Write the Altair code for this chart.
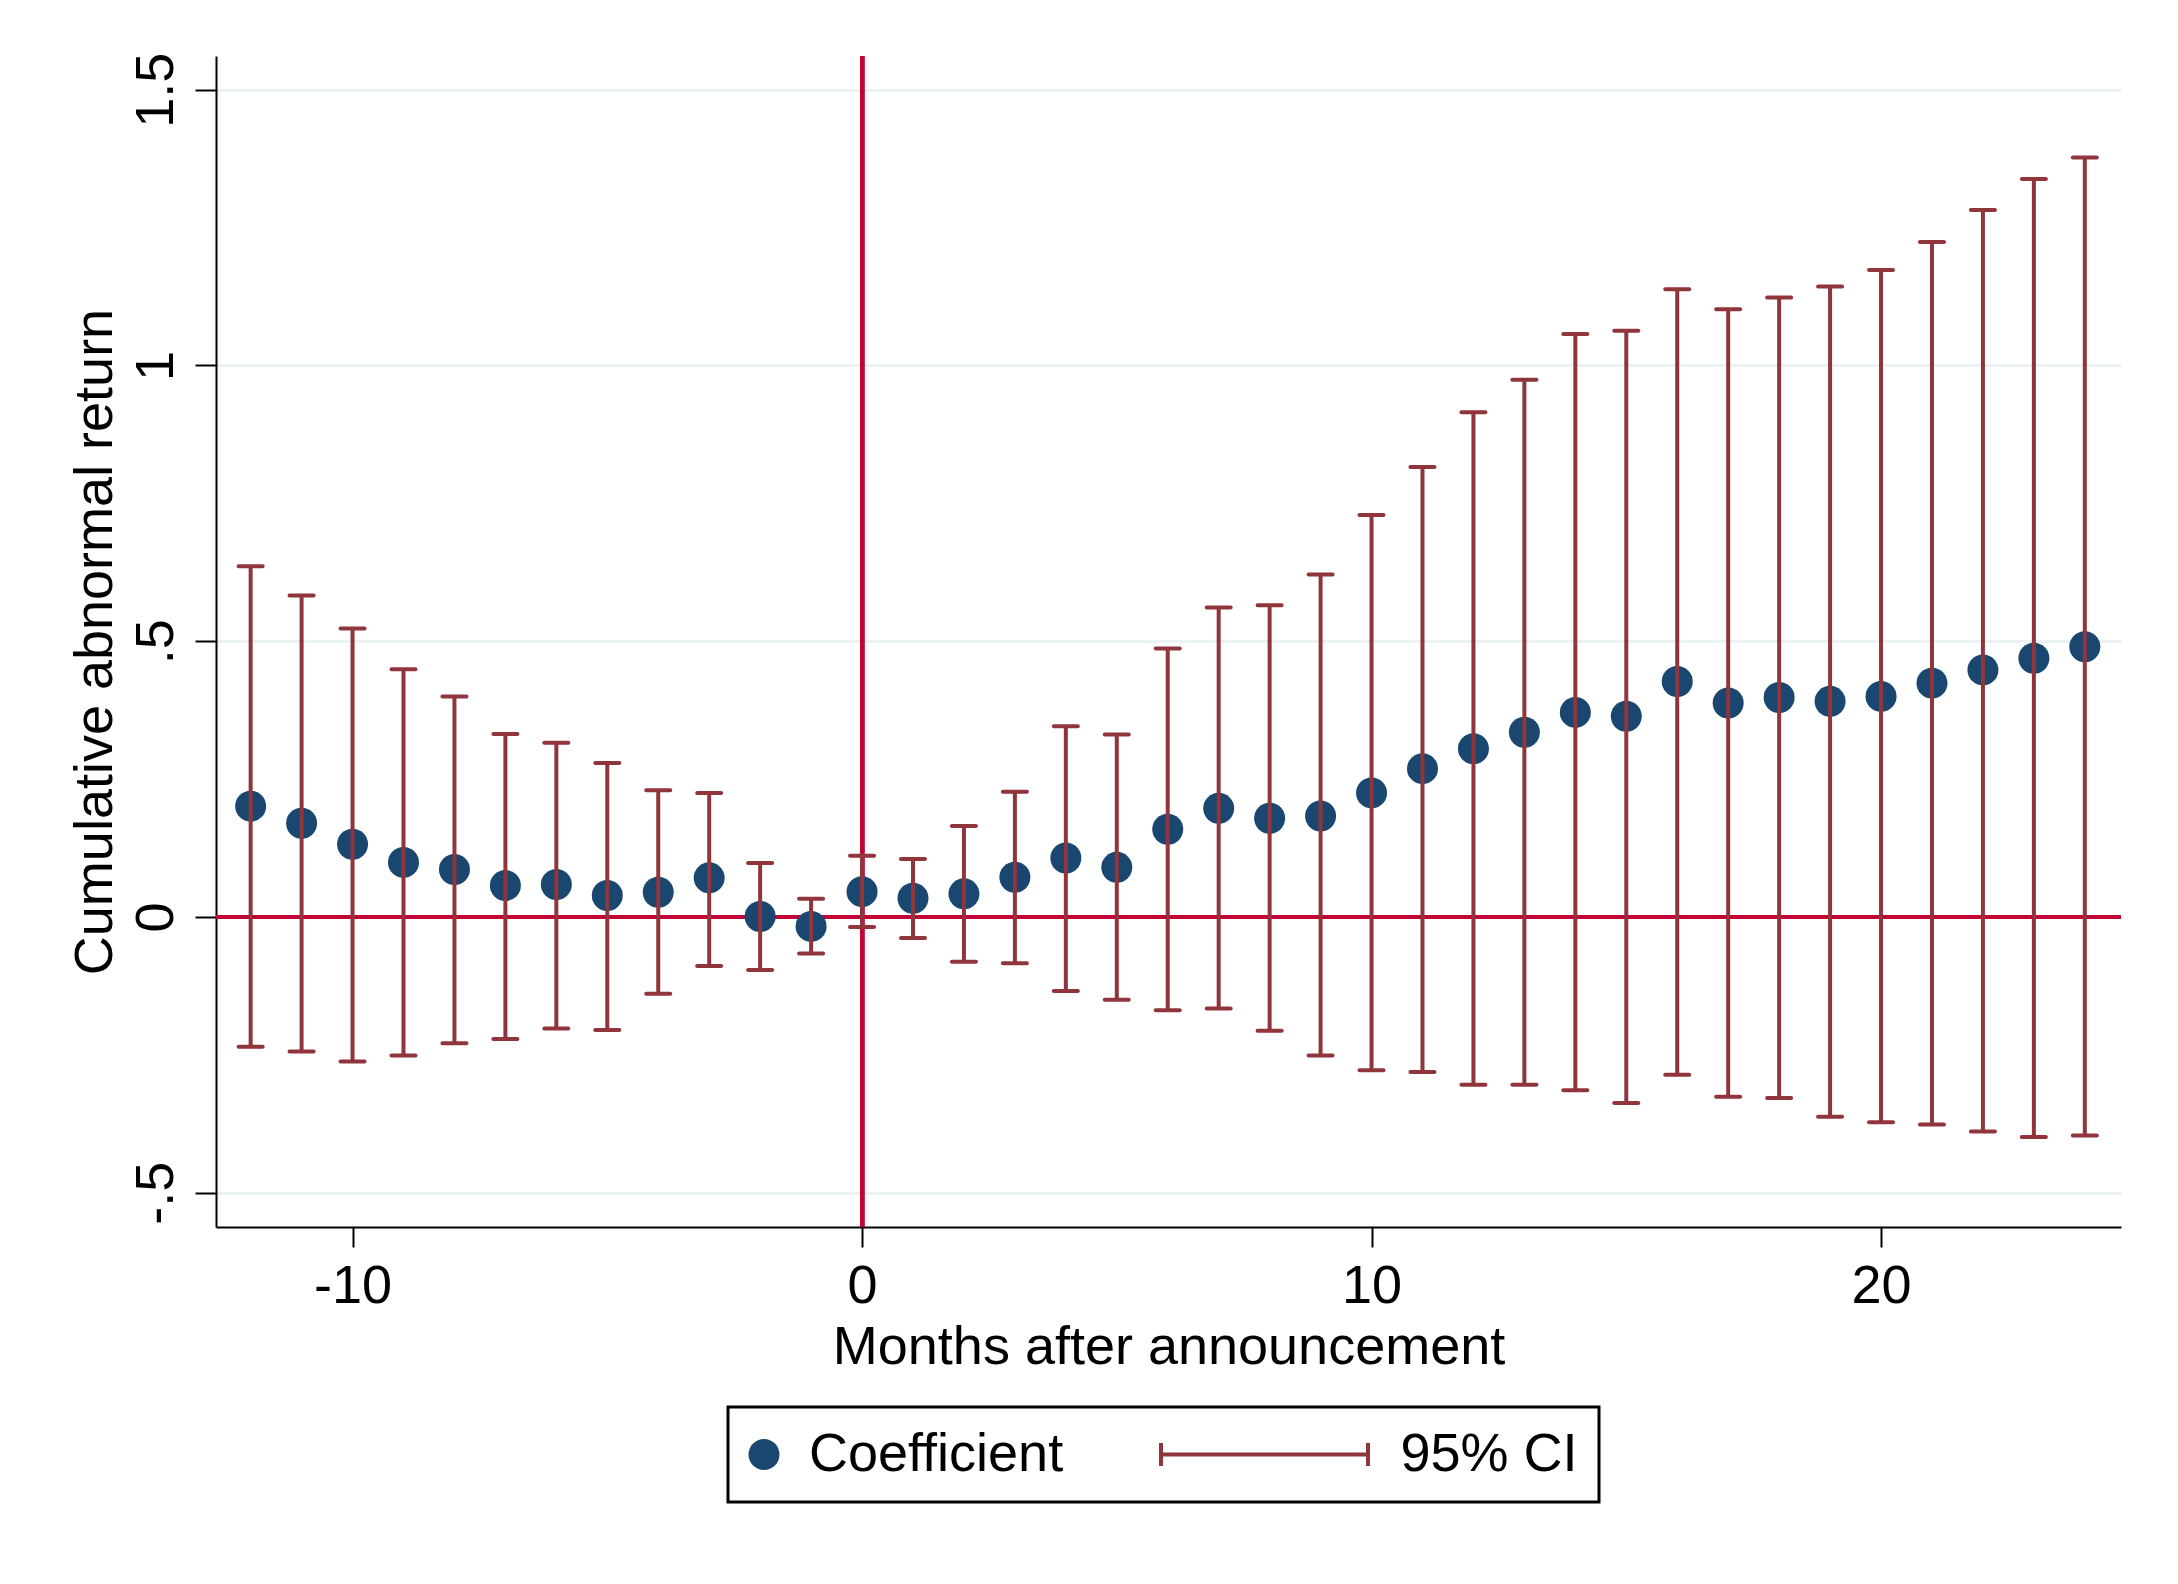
import altair as alt
import pandas as pd

# ---- data ----
months = list(range(-12, 25))
coef = [0.201, 0.170, 0.132, 0.099, 0.086, 0.057, 0.059, 0.039, 0.045, 0.071,
        0.001, -0.017, 0.046, 0.034, 0.042, 0.072, 0.107, 0.090, 0.159, 0.197,
        0.179, 0.183, 0.225, 0.269, 0.305, 0.335, 0.371, 0.364, 0.427, 0.388,
        0.398, 0.391, 0.400, 0.424, 0.448, 0.469, 0.490]
ci_hi = [0.636, 0.583, 0.523, 0.449, 0.400, 0.332, 0.316, 0.279, 0.230, 0.225,
         0.098, 0.033, 0.111, 0.105, 0.165, 0.227, 0.346, 0.331, 0.487, 0.561,
         0.565, 0.621, 0.729, 0.816, 0.915, 0.974, 1.057, 1.063, 1.138, 1.102,
         1.123, 1.143, 1.173, 1.224, 1.282, 1.338, 1.377]
ci_lo = [-0.235, -0.244, -0.262, -0.251, -0.229, -0.221, -0.202, -0.205, -0.139, -0.089,
         -0.096, -0.066, -0.018, -0.038, -0.081, -0.084, -0.134, -0.150, -0.169, -0.166,
         -0.206, -0.251, -0.278, -0.281, -0.304, -0.304, -0.314, -0.337, -0.286, -0.326,
         -0.328, -0.362, -0.372, -0.376, -0.389, -0.399, -0.396]

x_ticks = [-10, 0, 10, 20]
y_ticks = [-0.5, 0, 0.5, 1, 1.5]
y_tick_labels = ["-.5", "0", ".5", "1", "1.5"]
legend_labels = ["Coefficient", "95% CI"]
x_title = "Months after announcement"
y_title = "Cumulative abnormal return"

NAVY = "#1a476f"
MAROON = "#90353b"
RED = "#c10534"
GRID = "#eaf2f3"
FONT = "Liberation Sans"
FS = 54

df = pd.DataFrame({"month": months, "coef": coef, "lo": ci_lo, "hi": ci_hi})

W, H = 1905, 1171
x_scale = alt.Scale(domain=[-12.68, 24.71], nice=False, zero=False)
y_scale = alt.Scale(domain=[-0.562, 1.561], nice=False, zero=False)

ylab_expr = " : ".join(
    f"datum.value == {v} ? '{t}'" for v, t in zip(y_ticks, y_tick_labels)
) + " : ''"

x_axis = alt.Axis(values=x_ticks, grid=False, labelExpr="'' + datum.value",
                  title=x_title, tickSize=20, tickWidth=2, tickColor="black",
                  domainColor="black", domainWidth=2, labelPadding=12,
                  labelFontSize=FS, titleFontSize=FS, labelColor="black",
                  titleColor="black", titleFontWeight="normal",
                  titleBaseline="alphabetic", titleY=136, titleX=W / 2)
y_axis = alt.Axis(values=y_ticks, grid=True, gridColor=GRID, gridWidth=3,
                  labelExpr=ylab_expr, title=y_title, tickSize=21, tickWidth=2,
                  tickColor="black", domainColor="black", domainWidth=2,
                  labelAngle=270, labelAlign="center", labelBaseline="bottom",
                  labelPadding=12, labelFontSize=FS, titleFontSize=FS,
                  labelColor="black", titleColor="black", titleFontWeight="normal",
                  titleAngle=270, titleBaseline="alphabetic", titleAlign="center",
                  titleX=-105, titleY=H / 2)

base = alt.Chart(df)

hline = base.mark_rule(color=RED, strokeWidth=4).encode(
    y=alt.datum(0, scale=y_scale, axis=y_axis, type="quantitative"))
vline = base.mark_rule(color=RED, strokeWidth=4).encode(
    x=alt.datum(0, scale=x_scale, axis=x_axis, type="quantitative"))

dots = base.mark_circle(size=961, opacity=1, color=NAVY).encode(
    x=alt.X("month:Q", scale=x_scale, axis=x_axis),
    y=alt.Y("coef:Q", scale=y_scale, axis=y_axis),
)
bars = base.mark_rule(color=MAROON, strokeWidth=4).encode(
    x="month:Q", y="lo:Q", y2="hi:Q")
cap_lo = base.mark_tick(orient="horizontal", size=28, thickness=4,
                        color=MAROON, opacity=1, cornerRadius=2).encode(
    x="month:Q", y="lo:Q")
cap_hi = base.mark_tick(orient="horizontal", size=28, thickness=4,
                        color=MAROON, opacity=1, cornerRadius=2).encode(
    x="month:Q", y="hi:Q")

# legend symbols (custom paths, unit = symbol radius)
dot_path = "M-1.742,0A1,1 0 1,0 0.258,0A1,1 0 1,0 -1.742,0Z"
ci_path = "M-13.29,0H0.065M-13.29,-0.74V0.74M0.065,-0.74V0.74"
leg_df = pd.DataFrame({"series": legend_labels})
legend = alt.Legend(orient="none", legendX=512, legendY=1351, direction="horizontal",
                    columns=2, columnPadding=89.5, padding=20.5, strokeColor="black",
                    symbolSize=961, symbolStrokeWidth=4, labelOffset=6.5,
                    labelFontSize=FS, labelFont=FONT, labelColor="black",
                    labelLimit=1000, title=None, symbolOpacity=1)
leg_layer = alt.Chart(leg_df).mark_point(filled=False, opacity=1).encode(
    shape=alt.Shape("series:N", scale=alt.Scale(domain=legend_labels, range=[dot_path, ci_path]), legend=legend),
    fill=alt.Fill("series:N", scale=alt.Scale(domain=legend_labels, range=[NAVY, "transparent"]), legend=legend),
    stroke=alt.Stroke("series:N", scale=alt.Scale(domain=legend_labels, range=["transparent", MAROON]), legend=legend),
).transform_filter("false")

chart = alt.layer(hline, vline, dots, bars, cap_lo, cap_hi, leg_layer).properties(
    width=W, height=H,
    padding={"left": 208, "top": 48, "right": 49, "bottom": 349},
    autosize=alt.AutoSizeParams(type="none"),
).configure(font=FONT, background="white").configure_view(
    stroke="transparent", strokeWidth=0).configure_legend(strokeWidth=3)

chart.save("out.html", embed_options={"renderer": "svg", "actions": False})
